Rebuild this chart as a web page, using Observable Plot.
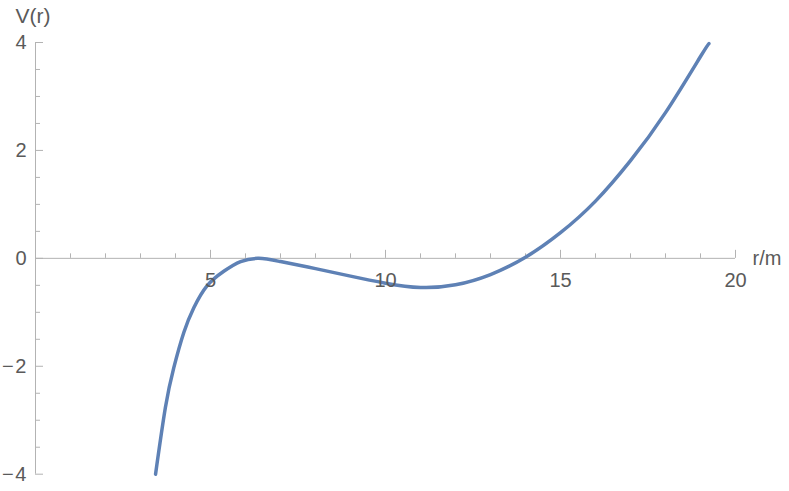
<!DOCTYPE html>
<html>
<head>
<meta charset="utf-8">
<script src="https://cdn.jsdelivr.net/npm/d3@7"></script>
<script src="https://cdn.jsdelivr.net/npm/@observablehq/plot@0.6"></script>
<style>
  html, body { margin: 0; padding: 0; background: #fff; }
  svg { display: block; }
</style>
</head>
<body>
<div id="chart"></div>
<script>
// Data
const rValues = [3.43, 3.71, 3.95, 4.24, 4.52, 4.90, 5.38, 5.86, 6.38, 7.00, 8.00, 9.00, 10.00, 11.00, 12.00, 13.00, 14.00, 15.00, 16.00, 17.00, 18.00, 19.00, 19.24];
const vValues = [-4.00, -2.77, -2.03, -1.37, -0.92, -0.51, -0.24, -0.06, 0.00, -0.06, -0.19, -0.33, -0.46, -0.54, -0.49, -0.30, 0.02, 0.475, 1.06, 1.81, 2.70, 3.74, 3.98];

const xMajorTicks = [5, 10, 15, 20];
const xMinorTicks = [1, 2, 3, 4, 6, 7, 8, 9, 11, 12, 13, 14, 16, 17, 18, 19];
const yMajorTicks = [-4, -2, 0, 2, 4];
const yMinorTicks = [-3.5, -3, -2.5, -1.5, -1, -0.5, 0.5, 1, 1.5, 2.5, 3, 3.5];
const xAxisLabel = "r/m";
const yAxisLabel = "V(r)";

const curveData = rValues.map((r, i) => ({r, v: vValues[i]}));

const W = 789, H = 491;
const mL = 35, mR = 54, mT = 42, mB = 17.3;
const pxX = (W - mL - mR) / 20;   // pixels per x unit
const pxY = (H - mT - mB) / 8;    // pixels per y unit

const axisColor = "#b3b3b3";
const labelColor = "#5a5a5a";
const font = "'Liberation Sans', Arial, sans-serif";
const fs = 20;

const chart = Plot.plot({
  width: W,
  height: H,
  marginLeft: mL,
  marginRight: mR,
  marginTop: mT,
  marginBottom: mB,
  x: {domain: [0, 20], axis: null},
  y: {domain: [-4, 4], axis: null},
  style: {fontFamily: font, fontSize: fs + "px", overflow: "visible", background: "#fff"},
  marks: [
    // axes lines
    Plot.ruleY([0], {x1: 0, x2: 20, stroke: axisColor, strokeWidth: 1}),
    Plot.ruleX([0], {y1: -4, y2: 4, stroke: axisColor, strokeWidth: 1}),
    // x ticks (pointing up from axis)
    Plot.ruleX(xMajorTicks, {x: d => d, y1: 0, y2: 8 / pxY, stroke: axisColor}),
    Plot.ruleX(xMinorTicks, {x: d => d, y1: 0, y2: 4.5 / pxY, stroke: axisColor}),
    // y ticks (pointing right from axis)
    Plot.ruleY(yMajorTicks, {y: d => d, x1: 0, x2: 8 / pxX, stroke: axisColor}),
    Plot.ruleY(yMinorTicks, {y: d => d, x1: 0, x2: 5 / pxX, stroke: axisColor}),
    // curve
    Plot.line(curveData, {x: "r", y: "v", curve: "natural", stroke: "#5e81b5", strokeWidth: 3.5}),
    // tick labels
    Plot.text(xMajorTicks, {x: d => d, y: 0, dy: 22, text: d => String(d), fill: labelColor, fontSize: fs}),
    Plot.text(yMajorTicks, {x: 0, y: d => d, dx: -9, textAnchor: "end", text: d => d < 0 ? "\u2212\u200A" + Math.abs(d) : String(d), fill: labelColor, fontSize: fs}),
    // axis labels
    Plot.text([xAxisLabel], {x: 20, y: 0, dx: 17, textAnchor: "start", text: d => d, fill: labelColor, fontSize: fs}),
    Plot.text([yAxisLabel], {frameAnchor: "top-left", dx: -20, dy: -26, textAnchor: "start", lineAnchor: "middle", text: d => d, fill: labelColor, fontSize: 21})
  ]
});
document.getElementById("chart").appendChild(chart);
</script>
</body>
</html>
